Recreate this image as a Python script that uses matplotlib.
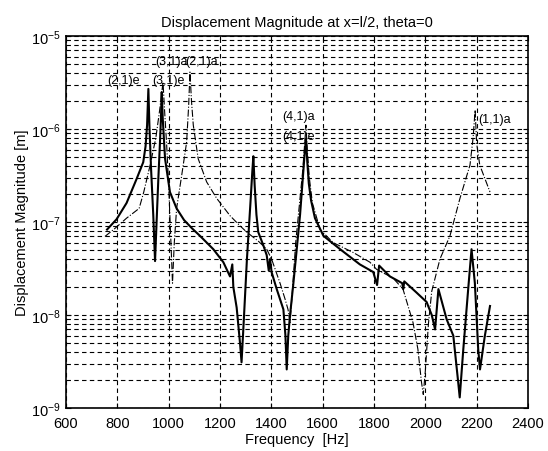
import matplotlib
import matplotlib.pyplot as plt
from matplotlib.ticker import LogLocator, NullFormatter

matplotlib.use('Agg')

plt.rcParams['font.family'] = ['Liberation Sans', 'DejaVu Sans']
plt.rcParams['mathtext.fontset'] = 'custom'
plt.rcParams['mathtext.rm'] = 'Liberation Sans'

# respuesta con el eje "e" (linea solida)
frec_e = [760, 797, 836, 875, 901, 910, 916, 921, 925, 931, 940, 947, 953, 960, 966,
          970, 973, 977, 986, 1005, 1031, 1060, 1090, 1122, 1174, 1213, 1239, 1248, 1252,
          1265, 1278, 1284, 1292, 1305, 1318, 1326, 1330, 1335, 1342, 1349, 1369, 1382,
          1390, 1395, 1401, 1421, 1447, 1455, 1460, 1466, 1473, 1486, 1499, 1512, 1522,
          1530, 1535, 1540, 1546, 1555, 1570, 1603, 1668, 1745, 1797, 1812, 1820, 1862,
          1910, 1914, 1918, 1966, 2005, 2025, 2038, 2051, 2083, 2109, 2128, 2134, 2148,
          2167, 2180, 2193, 2206, 2213, 2232, 2252]
mag_e = [8.3e-8, 1.07e-7, 1.6e-7, 2.9e-7, 4.4e-7, 6.5e-7, 1.1e-6, 2.7e-6, 1.1e-6,
         4e-7, 1.2e-7, 3.8e-8, 1e-7, 3e-7, 7e-7, 1.3e-6, 2.5e-6, 1.3e-6, 4.8e-7, 2.1e-7,
         1.4e-7, 1.05e-7, 8.6e-8, 7.1e-8, 5.1e-8, 3.7e-8, 2.6e-8, 3.5e-8, 2e-8, 1.2e-8,
         5e-9, 3.1e-9, 8e-9, 4e-8, 1.5e-7, 3.5e-7, 5.1e-7, 2.5e-7, 1.2e-7, 7.8e-8,
         5.6e-8, 4.4e-8, 3.0e-8, 4.0e-8, 2.9e-8, 1.9e-8, 1.15e-8, 6e-9, 2.6e-9, 6e-9,
         1.0e-8, 2.2e-8, 5.1e-8, 1.2e-7, 2.8e-7, 5.5e-7, 7.8e-7, 4.5e-7, 2.6e-7, 1.7e-7,
         1.1e-7, 7.1e-8, 5.1e-8, 3.5e-8, 2.9e-8, 2.1e-8, 3.4e-8, 2.6e-8, 2.2e-8, 1.9e-8,
         2.3e-8, 1.74e-8, 1.38e-8, 1.0e-8, 7e-9, 1.9e-8, 9e-9, 6e-9, 1.9e-9, 1.3e-9,
         4.3e-9, 1.9e-8, 5.1e-8, 2.2e-8, 4.3e-9, 2.6e-9, 6e-9, 1.25e-8]

# respuesta con el eje "a" (linea punteada)
frec_a = [752, 790, 836, 885, 903, 927, 950, 965, 972, 978, 984, 992, 1000, 1008, 1015,
          1022, 1031, 1051, 1070, 1078, 1083, 1089, 1096, 1115, 1148, 1187, 1239, 1278,
          1304, 1350, 1382, 1401, 1434, 1453, 1465, 1473, 1480, 1495, 1510, 1522, 1530,
          1535, 1540, 1548, 1560, 1590, 1641, 1719, 1784, 1810, 1874, 1913, 1952, 1971,
          1985, 1992, 2000, 2012, 2025, 2057, 2096, 2135, 2174, 2186, 2194, 2200, 2212,
          2252]
mag_a = [7.0e-8, 8.5e-8, 1.1e-7, 1.4e-7, 2.1e-7, 4e-7, 8e-7, 1.6e-6, 2.3e-6, 3.2e-6,
         1.6e-6, 7e-7, 2.5e-7, 7e-8, 2.2e-8, 6e-8, 1.4e-7, 3.2e-7, 7.2e-7, 1.8e-6,
         4.1e-6, 2.0e-6, 1.1e-6, 4.8e-7, 2.7e-7, 1.8e-7, 1.17e-7, 9.1e-8, 7.8e-8, 6.2e-8,
         5.1e-8, 4.0e-8, 2.2e-8, 1.5e-8, 1.15e-8, 8.3e-9, 1.5e-8, 6e-8, 1.6e-7, 3.5e-7,
         7e-7, 1.1e-6, 6e-7, 3e-7, 1.6e-7, 8.3e-8, 6.0e-8, 4.7e-8, 3.7e-8, 3.1e-8,
         2.5e-8, 1.9e-8, 8.3e-9, 4.3e-9, 1.9e-9, 1.4e-9, 2.5e-9, 8e-9, 1.8e-8, 4.0e-8,
         7.1e-8, 1.8e-7, 4.1e-7, 8e-7, 1.6e-6, 7e-7, 4.1e-7, 2.1e-7]

# etiquetas de los modos
modos = ['(2,1)e', '(3,1)e', '(3,1)a', '(2,1)a', '(4,1)a', '(4,1)e', '(1,1)a']
modos_f = [760, 937, 948, 1064, 1441, 1441, 2205]
modos_y = [3.4e-6, 3.4e-6, 5.4e-6, 5.4e-6, 1.38e-6, 8.4e-7, 1.29e-6]

fig = plt.figure(figsize=(5.48, 4.52), dpi=100)
ax = fig.add_axes([0.1204, 0.0951, 0.8431, 0.823])

ax.semilogy(frec_a, mag_a, color='black', linestyle='-.', linewidth=0.8)
ax.semilogy(frec_e, mag_e, color='black', linestyle='-', linewidth=1.5)

for i in range(len(modos)):
    ax.text(modos_f[i], modos_y[i], modos[i], ha='left', va='center', fontsize=9)

ax.set_xlim(600, 2400)
ax.set_ylim(1e-9, 1e-5)
ax.set_xticks(range(600, 2401, 200))
ax.yaxis.set_major_locator(LogLocator(base=10, numticks=10))
ax.yaxis.set_minor_locator(LogLocator(base=10, subs=range(2, 10), numticks=10))
ax.yaxis.set_minor_formatter(NullFormatter())

ax.grid(True, which='major', color='black', linestyle=(0, (4, 3)), linewidth=0.8)
ax.grid(True, which='minor', axis='y', color='black', linestyle=(0, (4, 3)), linewidth=0.8)
ax.tick_params(which='both', direction='in', top=True, right=True, labelsize=10.5)
ax.tick_params(axis='x', pad=6)
for sp in ax.spines.values():
    sp.set_linewidth(1.2)

ax.set_title('Displacement Magnitude at x=l/2, theta=0', fontsize=10.5, pad=7)
ax.set_xlabel('Frequency  [Hz]', fontsize=10.5, labelpad=1)
ax.set_ylabel('Displacement Magnitude [m]', fontsize=10.5, labelpad=2)

fig.savefig('out.png', dpi=100)
